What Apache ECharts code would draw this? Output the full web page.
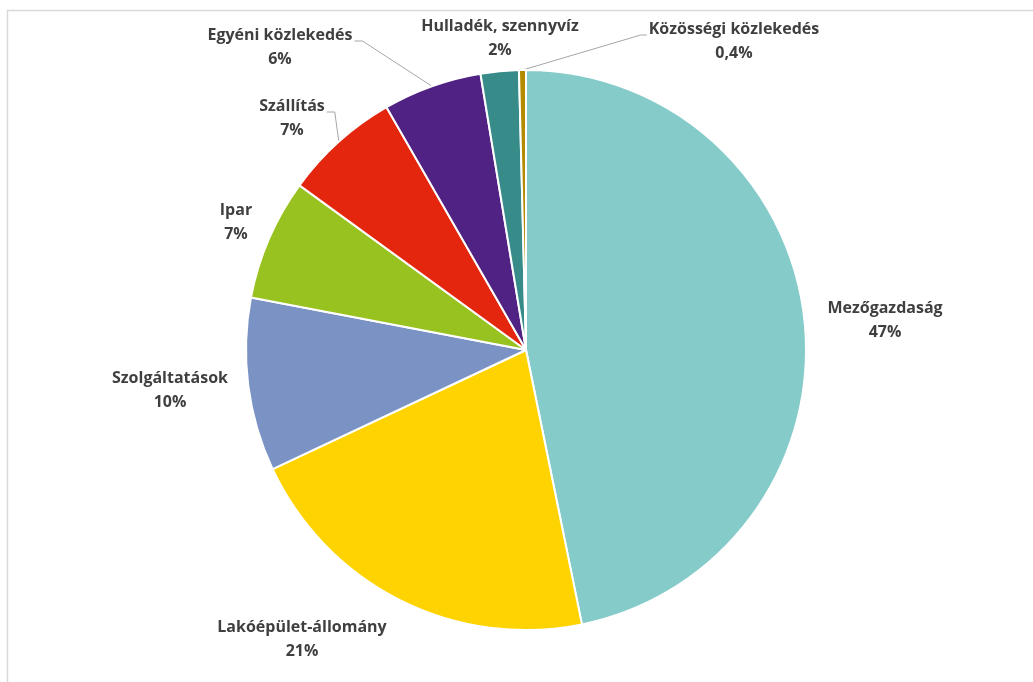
<!DOCTYPE html>
<html>
<head>
<meta charset="utf-8">
<script src="https://cdn.jsdelivr.net/npm/echarts@6/dist/echarts.min.js"></script>
<style>
html,body{margin:0;padding:0;background:#fff;}
#chart{width:1033px;height:682px;}
</style>
</head>
<body>
<div id="chart"></div>
<script>
const categories = ['Mezőgazdaság','Lakóépület-állomány','Szolgáltatások','Ipar','Szállítás','Egyéni közlekedés','Hulladék, szennyvíz','Közösségi közlekedés'];
const shares = [46.8, 21.2, 10.0, 7.0, 6.7, 5.7, 2.2, 0.4];
const colors = ['#84CBCA','#FFD300','#7A93C4','#98C21F','#E4260F','#4F2283','#378B89','#B38A00'];
const withLine = [false,false,false,false,true,true,false,true];

// label block centres (layout, not data)
const labelPos = [[885,320],[302,639],[170,390],[236,222],[292,118],[280,47],[500,38],[734,41]];

const chart = echarts.init(document.getElementById('chart'));
chart.setOption({
  animation:false,
  graphic:[{type:'rect',shape:{x:7.5,y:10.5,width:1100,height:700},style:{fill:'none',stroke:'#d9d9d9',lineWidth:1.5},silent:true}],
  series:[{
    type:'pie',
    center:[526,350],
    radius:280,
    startAngle:90,
    clockwise:true,
    avoidLabelOverlap:false,
    itemStyle:{borderColor:'#fff',borderWidth:2},
    label:{
      show:true,position:'outside',
      fontFamily:'Open Sans',fontWeight:'bold',fontSize:16,color:'#3f3f3f',
      lineHeight:24,align:'center',
      formatter:function(p){
        const pct = p.percent < 1 ? p.percent.toFixed(1).replace('.',',') : Math.round(p.percent);
        return p.name + '\n' + pct + '%';
      }
    },
    labelLine:{show:true,length:10,length2:10,lineStyle:{color:'#a6a6a6',width:1}},
    labelLayout:function(params){
      const i = params.dataIndex;
      const pos = labelPos[i];
      const w = params.labelRect.width;
      const res = {x:pos[0],y:pos[1],align:'center',verticalAlign:'middle'};
      if (withLine[i] && params.labelLinePoints) {
        const p0 = params.labelLinePoints[0];
        const isLeft = pos[0] < 526;
        const ly = pos[1] - 6;
        const ex = isLeft ? pos[0] + w/2 + 2 : pos[0] - w/2 - 2;
        const bx = isLeft ? ex + 8 : ex - 6;
        res.labelLinePoints = [[p0[0],p0[1]],[bx,ly],[ex,ly]];
      }
      return res;
    },
    data:categories.map((c,i)=>({
      name:c,value:shares[i],
      itemStyle:{color:colors[i]},
      labelLine:{show:withLine[i]}
    }))
  }]
});
</script>
</body>
</html>
